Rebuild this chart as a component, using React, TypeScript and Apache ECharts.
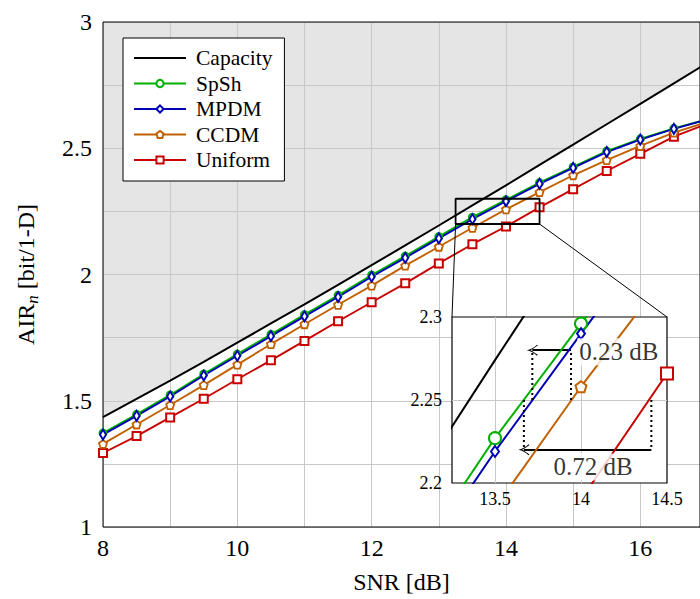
import React, { useEffect, useRef } from 'react';
import * as echarts from 'echarts';

// ---- data ----
const snr = [8, 8.5, 9, 9.5, 10, 10.5, 11, 11.5, 12, 12.5, 13, 13.5, 14, 14.5, 15, 15.5, 16, 16.5, 17];
const capacity = [1.435, 1.507, 1.58, 1.654, 1.73, 1.806, 1.882, 1.959, 2.037, 2.115, 2.194, 2.274, 2.353, 2.434, 2.514, 2.595, 2.676, 2.757, 2.838];
const spsh = [1.372, 1.446, 1.523, 1.606, 1.685, 1.763, 1.841, 1.918, 1.998, 2.073, 2.15, 2.227, 2.296, 2.364, 2.426, 2.489, 2.537, 2.579, 2.615];
const mpdm = [1.366, 1.44, 1.517, 1.6, 1.678, 1.756, 1.834, 1.911, 1.991, 2.066, 2.143, 2.219, 2.29, 2.359, 2.422, 2.485, 2.534, 2.577, 2.614];
const ccdm = [1.329, 1.406, 1.483, 1.562, 1.643, 1.724, 1.803, 1.88, 1.956, 2.035, 2.11, 2.185, 2.258, 2.326, 2.393, 2.453, 2.509, 2.562, 2.605];
const uniform = [1.293, 1.36, 1.434, 1.508, 1.585, 1.66, 1.737, 1.815, 1.89, 1.965, 2.044, 2.12, 2.19, 2.266, 2.338, 2.41, 2.478, 2.546, 2.598];

const xTickLabels = ['8', '10', '12', '14', '16'];
const yTickLabels = ['1', '1.5', '2', '2.5', '3'];
const insetXTickLabels = ['13.5', '14', '14.5'];
const insetYTickLabels = ['2.2', '2.25', '2.3'];
const legendNames = ['Capacity', 'SpSh', 'MPDM', 'CCDM', 'Uniform'];

// zoom window (data coordinates)
const insetX = [13.25, 14.5];
const insetY = [2.2, 2.3];

// gap annotations (data coordinates of the inset)
const gapLabels = ['0.23 dB', '0.72 dB'];
const gapFrom = [13.942, 14.409];
const gapTo = [13.717, 13.668];
const gapArrowY = [2.28, 2.22];
const gapBaseY = [2.25, 2.25];
const gapTextX = [14.22, 14.07];
const gapTextY = [2.279, 2.2097];

const FONT = '"Liberation Serif", "Times New Roman", serif';
const GRIDC = '#c8c8c8';
const PENTAGON = 'path://M0,-10 L9.51,-3.09 L5.88,8.09 L-5.88,8.09 L-9.51,-3.09 Z';
const ARROW = 'path://M0,0 C1,4 3,8 6,11 L5,12 C3,9 1,6 0,4 C-1,6 -3,9 -5,12 L-6,11 C-3,8 -1,4 0,0 Z';
const LINE_ICON = 'path://M0,0H52V2.2H0Z';

const pair = (ys: number[]) => snr.map((x, i) => [x, ys[i]]);
const fmt = (list: string[]) => (v: number) => {
  const s = String(Number(Number(v).toFixed(4)));
  return list.includes(s) ? s : '';
};

const curves = [
  { name: 'Uniform', data: uniform, color: '#c80000', symbol: 'emptyRect', size: 8, insetSize: 12, fill: '#c80000' },
  { name: 'CCDM', data: ccdm, color: '#c06000', symbol: PENTAGON, size: 8, insetSize: 11, fill: '#ffffff' },
  { name: 'SpSh', data: spsh, color: '#00b000', symbol: 'emptyCircle', size: 7, insetSize: 12, fill: '#00b000' },
  { name: 'MPDM', data: mpdm, color: '#0000b4', symbol: 'emptyDiamond', size: [6, 10], insetSize: [8, 11], fill: '#0000b4' },
];

function buildOption(): any {
  const series: any[] = [];
  series.push({
    type: 'line', name: 'cap-area', data: pair(capacity), xAxisIndex: 0, yAxisIndex: 0,
    symbol: 'none', lineStyle: { width: 0, opacity: 0 },
    areaStyle: { color: '#e5e5e5', origin: 'end', opacity: 1 }, z: 1, silent: true,
  });
  series.push({
    type: 'line', name: 'Capacity', data: pair(capacity), xAxisIndex: 0, yAxisIndex: 0,
    symbol: 'none', lineStyle: { color: '#000', width: 2 }, itemStyle: { color: '#000' }, z: 3, silent: true,
  });
  curves.forEach((c) => {
    series.push({
      type: 'line', name: c.name, data: pair(c.data), xAxisIndex: 0, yAxisIndex: 0,
      symbol: c.symbol, symbolSize: c.size,
      lineStyle: { color: c.color, width: 1.9 },
      itemStyle: { color: c.fill, borderColor: c.color, borderWidth: 1.8 },
      z: 2, silent: true,
    });
  });
  series.push({
    type: 'line', name: 'box',
    data: [[insetX[0], insetY[0]], [insetX[1], insetY[0]], [insetX[1], insetY[1]], [insetX[0], insetY[1]], [insetX[0], insetY[0]]],
    xAxisIndex: 0, yAxisIndex: 0, symbol: 'none', lineStyle: { color: '#000', width: 1.8 }, z: 3.5, silent: true,
  });
  series.push({
    type: 'line', name: 'Capacity-inset', data: pair(capacity), xAxisIndex: 1, yAxisIndex: 1,
    symbol: 'none', lineStyle: { color: '#000', width: 2 }, z: 6, silent: true,
  });
  curves.forEach((c) => {
    series.push({
      type: 'line', name: c.name + '-inset', data: pair(c.data), xAxisIndex: 1, yAxisIndex: 1,
      symbol: c.symbol, symbolSize: c.insetSize,
      lineStyle: { color: c.color, width: 2 },
      itemStyle: { color: c.fill, borderColor: c.color, borderWidth: 2 },
      z: 6, silent: true,
    });
  });
  for (let i = 0; i < gapLabels.length; i++) {
    [gapFrom[i], gapTo[i]].forEach((x) => {
      series.push({
        type: 'line', name: 'guide', data: [[x, gapBaseY[i]], [x, gapArrowY[i]]], xAxisIndex: 1, yAxisIndex: 1,
        symbol: 'none', lineStyle: { color: '#000', width: 2, type: [2, 3] }, z: 7, silent: true,
      });
    });
  }
  series.push({
    type: 'scatter', name: 'gap-text', xAxisIndex: 1, yAxisIndex: 1, z: 8, silent: true,
    symbolSize: 1, itemStyle: { color: 'rgba(0,0,0,0)' },
    data: gapLabels.map((t, i) => ({
      value: [gapTextX[i], gapTextY[i]],
      label: {
        show: true, position: 'inside', formatter: t, fontSize: 25, fontFamily: FONT, color: '#000',
        backgroundColor: '#fff', padding: [1, 2],
      },
    })),
    markLine: {
      silent: true, symbol: ['none', ARROW], symbolSize: [11, 11],
      itemStyle: { color: '#000' },
      lineStyle: { color: '#000', width: 1.8, type: 'solid' }, label: { show: false },
      data: gapLabels.map((_, i) => [{ coord: [gapFrom[i], gapArrowY[i]] }, { coord: [gapTo[i], gapArrowY[i]] }]),
    },
  });

  return {
    animation: false,
    backgroundColor: '#fff',
    textStyle: { fontFamily: FONT },
    grid: [
      { left: 103, top: 22, width: 600, height: 505, show: true, borderColor: '#000', borderWidth: 1, backgroundColor: 'rgba(0,0,0,0)', z: 1.6 },
      { left: 452, top: 317, width: 215, height: 166, show: true, borderColor: '#000', borderWidth: 1.2, backgroundColor: '#fff', z: 4 },
    ],
    xAxis: [
      {
        type: 'value', gridIndex: 0, min: 8, max: 8 + 600 / 67.5, interval: 1, z: 1.5,
        axisLine: { show: false }, axisTick: { show: false },
        axisLabel: { formatter: fmt(xTickLabels), fontSize: 24, color: '#000', fontFamily: FONT, margin: 9, showMaxLabel: false },
        splitLine: { show: true, lineStyle: { color: GRIDC, width: 1 } },
        name: 'SNR [dB]', nameLocation: 'middle', nameGap: 43,
        nameTextStyle: { fontSize: 24, color: '#000', fontFamily: FONT },
      },
      {
        type: 'value', gridIndex: 1, min: insetX[0], max: insetX[1], interval: 0.25, z: 5,
        axisLine: { show: false }, axisTick: { show: false },
        axisLabel: { formatter: fmt(insetXTickLabels), fontSize: 18, color: '#000', fontFamily: FONT, margin: 7 },
        splitLine: { show: true, lineStyle: { color: ['rgba(0,0,0,0)', GRIDC, 'rgba(0,0,0,0)', GRIDC, 'rgba(0,0,0,0)', 'rgba(0,0,0,0)'], width: 1 } },
      },
    ],
    yAxis: [
      {
        type: 'value', gridIndex: 0, min: 1, max: 3, interval: 0.25, z: 1.5,
        axisLine: { show: false }, axisTick: { show: false },
        axisLabel: { formatter: fmt(yTickLabels), fontSize: 24, color: '#000', fontFamily: FONT, margin: 11 },
        splitLine: { show: true, lineStyle: { color: GRIDC, width: 1 } },
        name: '{a|AIR}{s|n}{a| [bit/1-D]}', nameLocation: 'middle', nameGap: 62, nameRotate: 90,
        nameTextStyle: {
          color: '#000',
          rich: {
            a: { fontSize: 24, fontFamily: FONT, color: '#000', lineHeight: 30, verticalAlign: 'middle' },
            s: { fontSize: 17, fontFamily: FONT, fontStyle: 'italic', color: '#000', lineHeight: 28, verticalAlign: 'bottom' },
          },
        },
      },
      {
        type: 'value', gridIndex: 1, min: insetY[0], max: insetY[1], interval: 0.05, z: 5,
        axisLine: { show: false }, axisTick: { show: false },
        axisLabel: { formatter: fmt(insetYTickLabels), fontSize: 18, color: '#000', fontFamily: FONT, margin: 10 },
        splitLine: { show: true, lineStyle: { color: ['rgba(0,0,0,0)', GRIDC, 'rgba(0,0,0,0)'], width: 1 } },
      },
    ],
    legend: {
      data: legendNames.map((n) => (n === 'Capacity' ? { name: n, icon: LINE_ICON } : { name: n })),
      orient: 'vertical', left: 123, top: 38,
      backgroundColor: '#fff', borderColor: '#000', borderWidth: 1, padding: [9, 12, 10, 10],
      itemWidth: 52, itemHeight: 9, itemGap: 3.5, selectedMode: false, z: 10,
      textStyle: { fontSize: 21.5, fontFamily: FONT, color: '#000', padding: [0, 0, 0, 5] },
    },
    series,
  };
}

export default function App() {
  const ref = useRef<HTMLDivElement>(null);
  useEffect(() => {
    if (!ref.current) return;
    const chart = echarts.init(ref.current, undefined, { renderer: 'svg' });
    chart.setOption(buildOption());
    const a = chart.convertToPixel({ gridIndex: 0 } as any, [insetX[0], insetY[0]]) as number[];
    const b = chart.convertToPixel({ gridIndex: 0 } as any, [insetX[1], insetY[0]]) as number[];
    const c = chart.convertToPixel({ gridIndex: 1 } as any, [insetX[0], insetY[1]]) as number[];
    const d = chart.convertToPixel({ gridIndex: 1 } as any, [insetX[1], insetY[1]]) as number[];
    chart.setOption({
      graphic: [
        { type: 'line', z: 3, silent: true, shape: { x1: a[0], y1: a[1], x2: c[0], y2: c[1] }, style: { stroke: '#000', lineWidth: 1 } },
        { type: 'line', z: 3, silent: true, shape: { x1: b[0], y1: b[1], x2: d[0], y2: d[1] }, style: { stroke: '#000', lineWidth: 1 } },
      ],
    });
    return () => chart.dispose();
  }, []);
  return <div ref={ref} style={{ position: 'absolute', left: 0, top: 0, width: 700, height: 599 }} />;
}
